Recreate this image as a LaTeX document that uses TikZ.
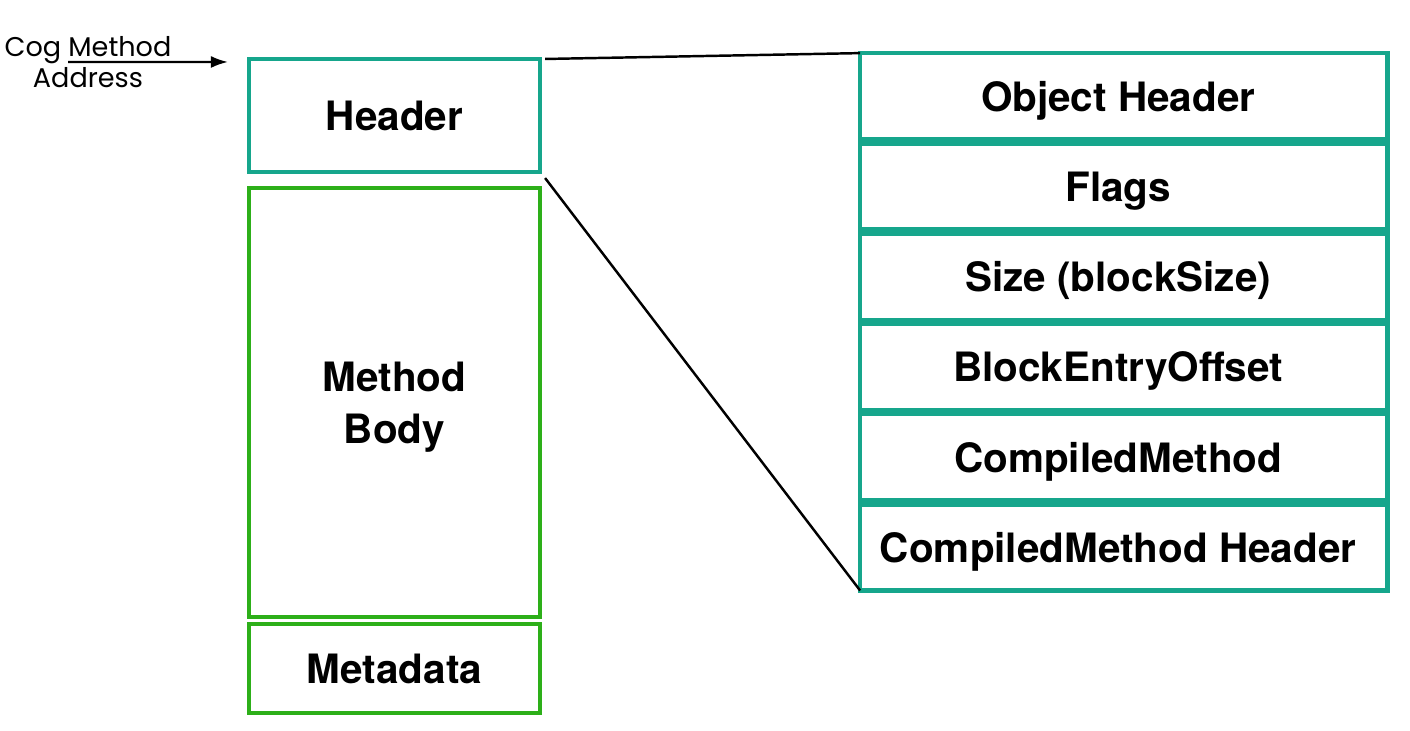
\documentclass[tikz,border=0pt]{standalone}
\usepackage{fontspec}
\setmainfont{TeX Gyre Heros}
\newfontfamily\gothic{Poppins}
\usetikzlibrary{matrix,arrows.meta,positioning}

\definecolor{cogteal}{RGB}{22,166,140}
\definecolor{coggreen}{RGB}{45,175,25}

\begin{document}
\begin{tikzpicture}[x=0.01cm, y=-0.01cm,
  cell/.style={draw, line width=1.2pt, inner sep=0pt, outer sep=0pt, align=center,
    text depth=0pt, font=\fontsize{11.5}{14.8}\selectfont\bfseries},
  hdrbox/.style={cell, cogteal, text=black, minimum width=2.91cm, minimum height=1.13cm},
  bodybox/.style={cell, coggreen, text=black, minimum width=2.91cm},
  field/.style={cell, cogteal, text=black, minimum width=5.27cm, minimum height=0.86cm}]
  \useasboundingbox (0,0) rectangle (1410,730);

  % code block
  \node[hdrbox] (hdr) at (394.5,115.5) {Header};
  \node[bodybox, minimum height=4.29cm, below=0.16cm of hdr] (body) {Method\\Body};
  \node[bodybox, minimum height=0.89cm, below=0.07cm of body] (meta) {Metadata};

  % header fields
  \matrix (f) [matrix of nodes, row sep=0cm, inner sep=0pt, outer sep=0pt, anchor=north west, nodes={field}] at (858,51)
  {
    Object Header \\
    Flags \\
    Size (blockSize) \\
    BlockEntryOffset \\
    CompiledMethod \\
    CompiledMethod Header \\
  };

  \node[font=\gothic\fontsize{7.7}{6.6}\selectfont, align=center] (cma) at (88,62) {Cog Method\\Address};
  \coordinate (cmastart) at (68,62);

  \draw[-{Latex[length=0.17cm,width=0.12cm]}, line width=0.6pt]
    (cmastart) -- ([xshift=-0.21cm, yshift=-0.03cm]hdr.north west);
  \draw[line width=0.7pt] ([xshift=0.05cm]hdr.north east) -- (f-1-1.north west);
  \draw[line width=0.7pt] ([xshift=0.05cm, yshift=-0.06cm]hdr.south east) -- (f-6-1.south west);
\end{tikzpicture}
\end{document}
